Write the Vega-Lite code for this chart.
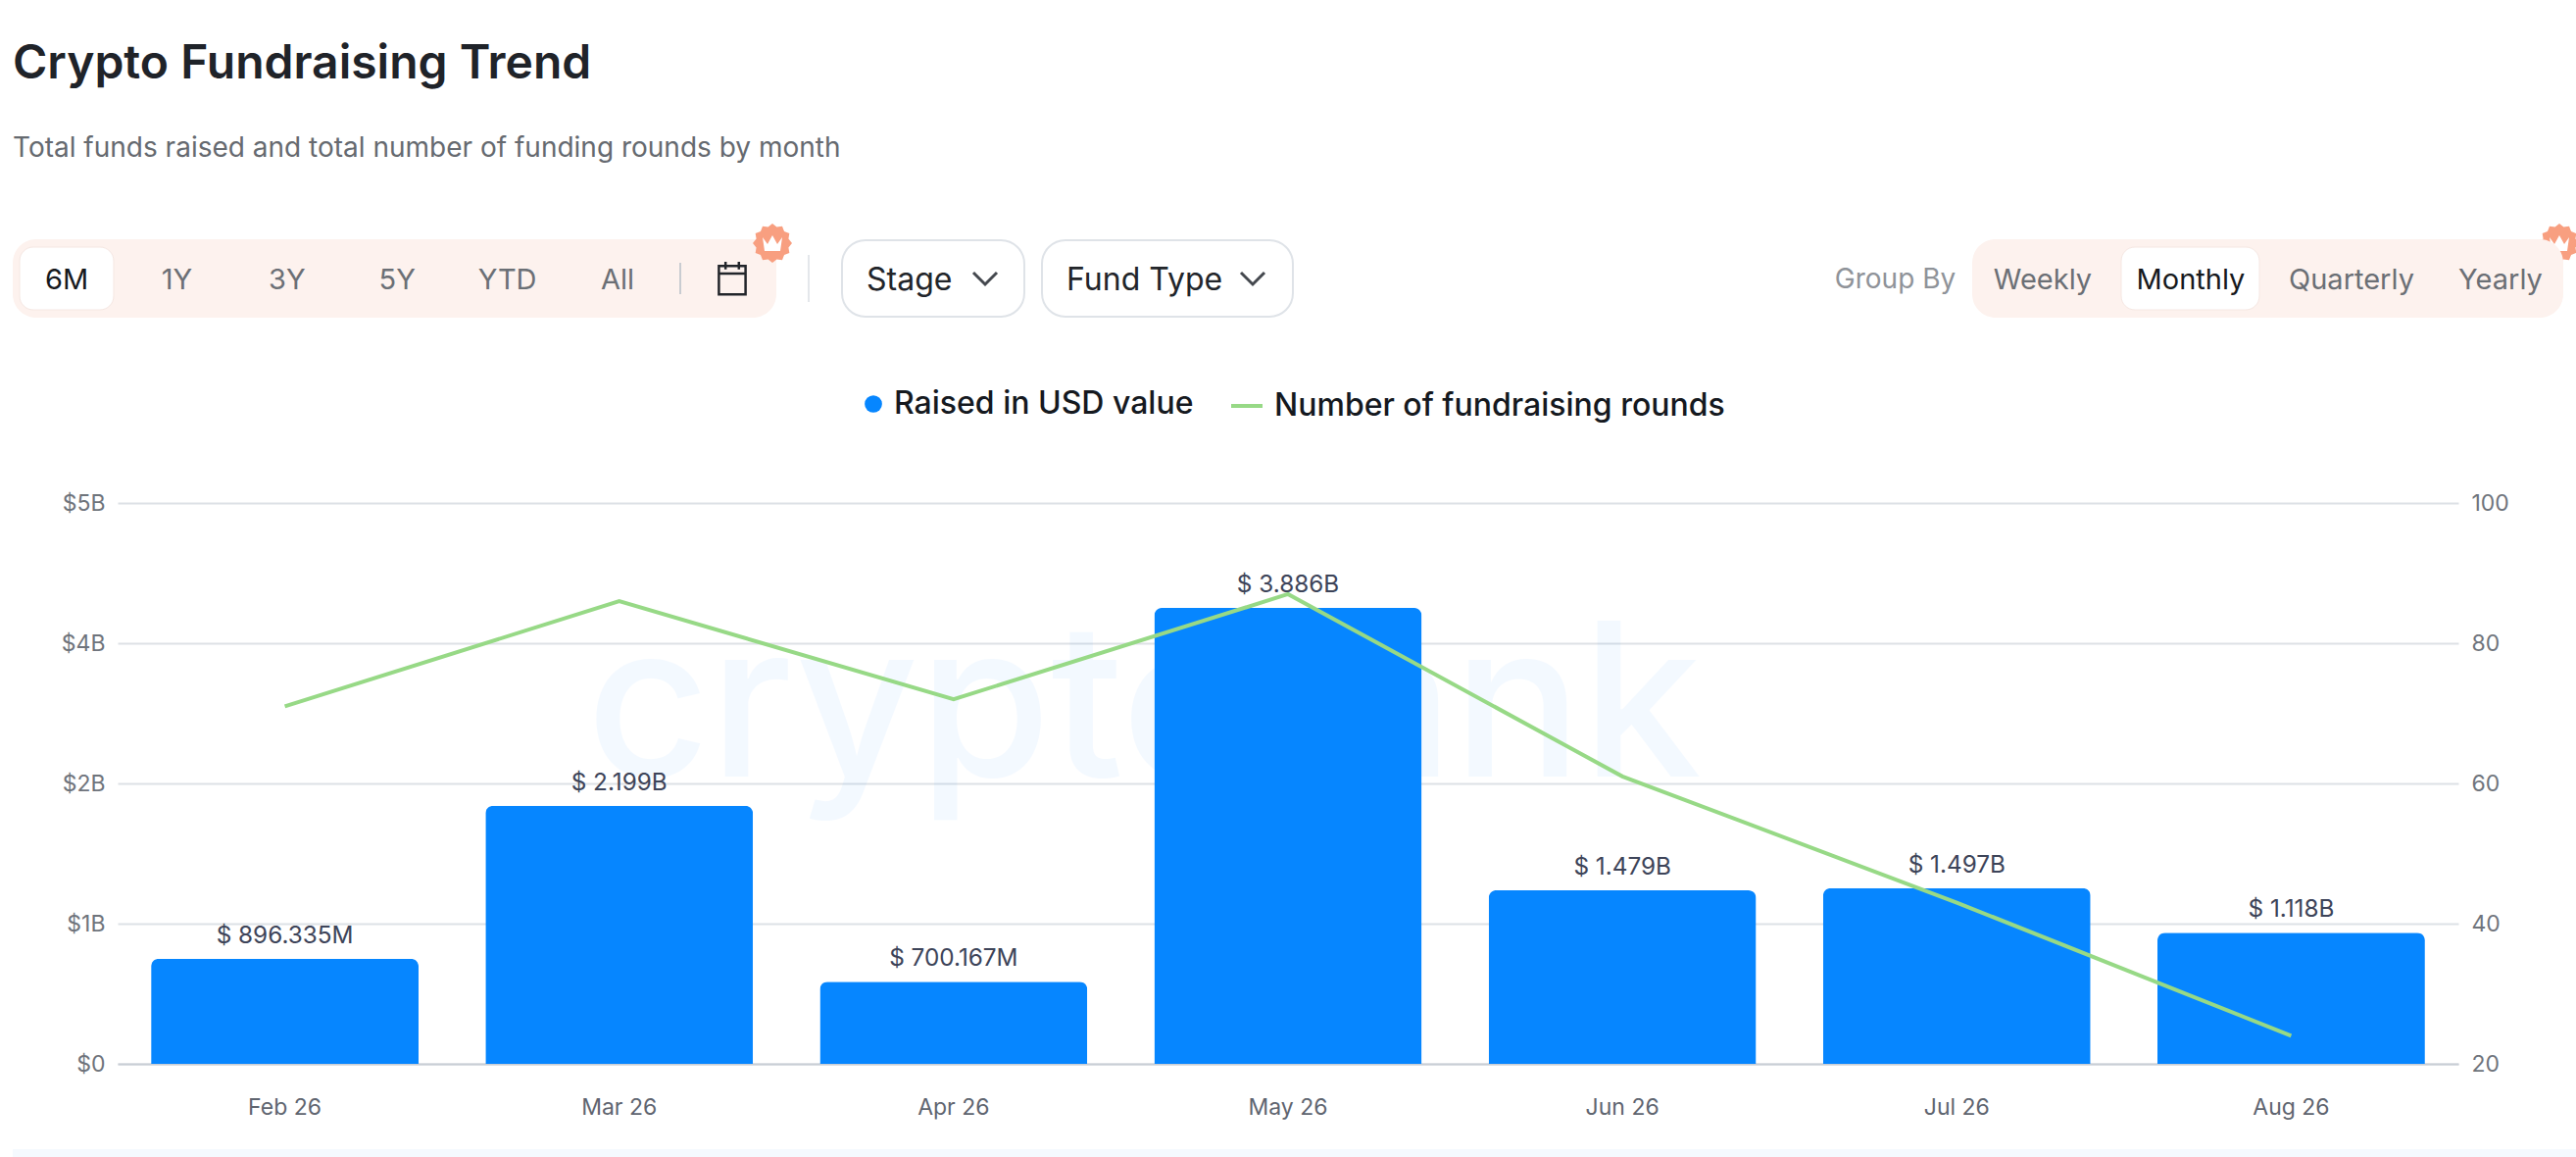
{
  "$schema": "https://vega.github.io/schema/vega-lite/v6.json",
  "width": 2388,
  "height": 572,
  "autosize": {"type": "none"},
  "padding": {"left": 120, "top": 513, "right": 120, "bottom": 95},
  "background": "#ffffff",
  "config": {
    "font": "Inter",
    "view": {"stroke": null},
    "text": {"font": "Inter"}
  },
  "title": {
    "text": "Crypto Fundraising Trend",
    "subtitle": "Total funds raised and total number of funding rounds by month",
    "anchor": "start",
    "frame": "group",
    "dx": -107,
    "offset": 62,
    "font": "Inter",
    "fontSize": 48,
    "fontWeight": 600,
    "color": "#1f2329",
    "subtitleFont": "Inter",
    "subtitleFontSize": 28,
    "subtitleColor": "#666a70",
    "subtitlePadding": 48
  },
  "datasets": {
    "months": [
      {"month": "Feb 26", "raised_b": 0.896335, "rounds": 71, "label": "$ 896.335M", "bar_series": "Raised in USD value", "line_series": "Number of fundraising rounds"},
      {"month": "Mar 26", "raised_b": 2.199, "rounds": 86, "label": "$ 2.199B", "bar_series": "Raised in USD value", "line_series": "Number of fundraising rounds"},
      {"month": "Apr 26", "raised_b": 0.700167, "rounds": 72, "label": "$ 700.167M", "bar_series": "Raised in USD value", "line_series": "Number of fundraising rounds"},
      {"month": "May 26", "raised_b": 3.886, "rounds": 87, "label": "$ 3.886B", "bar_series": "Raised in USD value", "line_series": "Number of fundraising rounds"},
      {"month": "Jun 26", "raised_b": 1.479, "rounds": 61, "label": "$ 1.479B", "bar_series": "Raised in USD value", "line_series": "Number of fundraising rounds"},
      {"month": "Jul 26", "raised_b": 1.497, "rounds": 43, "label": "$ 1.497B", "bar_series": "Raised in USD value", "line_series": "Number of fundraising rounds"},
      {"month": "Aug 26", "raised_b": 1.118, "rounds": 24, "label": "$ 1.118B", "bar_series": "Raised in USD value", "line_series": "Number of fundraising rounds"}
    ]
  },
  "layer": [
    {
      "data": {"values": [{"brand": "cryptorank"}]},
      "mark": {"type": "text", "fontSize": 218, "fontWeight": 500, "color": "#0686ff", "opacity": 0.045, "dx": -147, "dy": -72},
      "encoding": {"text": {"field": "brand"}}
    },
    {
      "data": {"name": "months"},
      "mark": {"type": "bar", "cornerRadiusTopLeft": 8, "cornerRadiusTopRight": 8},
      "encoding": {
        "x": {
          "field": "month", "type": "nominal", "sort": null,
          "scale": {"type": "band", "paddingInner": 0.2, "paddingOuter": 0.1},
          "axis": {"title": null, "labelAngle": 0, "labelFontSize": 23, "labelColor": "#5f6570", "labelPadding": 33, "ticks": false, "domainColor": "#c9ced6", "domainWidth": 2}
        },
        "y": {
          "field": "raised_b", "type": "quantitative",
          "scale": {"domain": [0, 4.78], "nice": false},
          "axis": {
            "title": null, "orient": "left", "values": [0, 1.195, 2.39, 3.585, 4.78],
            "labelExpr": "datum.value == 0 ? '$0' : '$' + round(datum.value) + 'B'",
            "labelFontSize": 23, "labelColor": "#6f747c", "labelPadding": 13,
            "ticks": false, "domain": false, "grid": true, "gridColor": "#dde1e6", "gridWidth": 2
          }
        },
        "fill": {
          "field": "bar_series", "type": "nominal",
          "scale": {"range": ["#0686ff"]},
          "legend": {"title": null, "orient": "none", "legendX": 755, "legendY": -117, "symbolType": "circle", "symbolSize": 314, "labelFont": "Inter", "labelFontSize": 32, "labelFontWeight": 500, "labelColor": "#15191f", "labelLimit": 600, "labelOffset": 5}
        }
      }
    },
    {
      "data": {"name": "months"},
      "mark": {"type": "text", "fontSize": 24.3, "color": "#3d4459", "dy": -23},
      "encoding": {
        "x": {"field": "month", "type": "nominal", "sort": null, "scale": {"type": "band", "paddingInner": 0.2, "paddingOuter": 0.1}, "axis": null},
        "y": {"field": "raised_b", "type": "quantitative", "scale": {"domain": [0, 4.78], "nice": false}, "axis": null},
        "text": {"field": "label"}
      }
    },
    {
      "data": {"name": "months"},
      "mark": {"type": "line", "strokeWidth": 4},
      "encoding": {
        "x": {"field": "month", "type": "nominal", "sort": null, "scale": {"type": "band", "paddingInner": 0.2, "paddingOuter": 0.1}, "axis": null},
        "y": {
          "field": "rounds", "type": "quantitative",
          "scale": {"domain": [20, 100], "nice": false, "zero": false},
          "axis": {"title": null, "orient": "right", "values": [20, 40, 60, 80, 100], "labelFontSize": 23, "labelColor": "#6f747c", "labelPadding": 13, "ticks": false, "domain": false, "grid": false}
        },
        "stroke": {
          "field": "line_series", "type": "nominal",
          "scale": {"range": ["#97d986"]},
          "legend": {"title": null, "orient": "none", "legendX": 1134, "legendY": -117, "symbolType": "stroke", "symbolSize": 1024, "symbolStrokeWidth": 4, "labelFont": "Inter", "labelFontSize": 32, "labelFontWeight": 500, "labelColor": "#15191f", "labelLimit": 700, "labelOffset": 10}
        }
      }
    },
    {
      "data": {"values": [{"control": "period range"}]},
      "mark": {"type": "rect", "fill": "#fdf2ee", "cornerRadius": 24},
      "encoding": {
        "x": {"field": "control", "type": "nominal", "scale": {"type": "band", "padding": 0, "range": [-107, 672]}, "axis": null},
        "y": {"field": "control", "type": "nominal", "scale": {"type": "band", "padding": 0, "range": [-269, -189]}, "axis": null}
      }
    },
    {
      "data": {"values": [{"control": "6M"}]},
      "mark": {"type": "rect", "fill": "#ffffff", "stroke": "#f5e7e2", "strokeWidth": 1, "cornerRadius": 14},
      "encoding": {
        "x": {"field": "control", "type": "nominal", "scale": {"type": "band", "padding": 0, "range": [-100, -4]}, "axis": null},
        "y": {"field": "control", "type": "nominal", "scale": {"type": "band", "padding": 0, "range": [-261, -197]}, "axis": null}
      }
    },
    {
      "data": {"values": [{"range": "6M"}, {"range": "1Y"}, {"range": "3Y"}, {"range": "5Y"}, {"range": "YTD"}, {"range": "All"}]},
      "mark": {"type": "text", "fontSize": 29, "dy": 2},
      "encoding": {
        "x": {"field": "range", "type": "nominal", "sort": null, "scale": {"type": "point", "padding": 0, "range": [-52, 510]}, "axis": null},
        "y": {"datum": "controls", "type": "nominal", "scale": {"type": "band", "padding": 0, "range": [-269, -189]}, "axis": null},
        "color": {"condition": {"test": "datum.range === '6M'", "value": "#16191d"}, "value": "#6b6f75"},
        "text": {"field": "range"}
      }
    },
    {
      "data": {"values": [{"icon": "divider"}]},
      "mark": {"type": "point", "shape": "M0,-1L0,1", "size": 1024, "filled": false, "stroke": "#c9ccd1", "strokeWidth": 2, "opacity": 1},
      "encoding": {
        "x": {"field": "icon", "type": "nominal", "scale": {"type": "point", "range": [574, 574]}, "axis": null},
        "y": {"datum": "controls", "type": "nominal", "scale": {"type": "band", "padding": 0, "range": [-269, -189]}, "axis": null}
      }
    },
    {
      "data": {"values": [{"icon": "calendar"}]},
      "mark": {"type": "point", "shape": "M-0.8,-0.75H0.8V0.95H-0.8ZM-0.8,-0.3H0.8M-0.4,-1V-0.55M0.4,-1V-0.55", "size": 1156, "filled": false, "stroke": "#22252a", "strokeWidth": 2.5, "opacity": 1},
      "encoding": {
        "x": {"field": "icon", "type": "nominal", "scale": {"type": "point", "range": [627, 627]}, "axis": null},
        "y": {"datum": "controls", "type": "nominal", "scale": {"type": "band", "padding": 0, "range": [-269, -189]}, "axis": null}
      }
    },
    {
      "data": {"values": [{"icon": "badge period"}, {"icon": "badge group"}]},
      "mark": {"type": "point", "shape": "M1,0L.821,.22L.866,.5L.601,.601L.5,.866L.22,.821L0,1L-.22,.821L-.5,.866L-.601,.601L-.866,.5L-.821,.22L-1,0L-.821,-.22L-.866,-.5L-.601,-.601L-.5,-.866L-.22,-.821L0,-1L.22,-.821L.5,-.866L.601,-.601L.866,-.5L.821,-.22Z", "size": 1600, "filled": true, "fill": "#f89f80", "opacity": 1},
      "encoding": {
        "x": {"field": "icon", "type": "nominal", "sort": null, "scale": {"type": "point", "padding": 0, "range": [668, 2491]}, "axis": null},
        "y": {"datum": "badges", "type": "nominal", "scale": {"type": "band", "padding": 0, "range": [-285, -245]}, "axis": null}
      }
    },
    {
      "data": {"values": [{"icon": "crown period"}, {"icon": "crown group"}]},
      "mark": {"type": "point", "shape": "M-1,-0.6L-0.5,0.1L0,-0.8L0.5,0.1L1,-0.6L0.8,0.8L-0.8,0.8Z", "size": 400, "filled": true, "fill": "#ffffff", "opacity": 1},
      "encoding": {
        "x": {"field": "icon", "type": "nominal", "sort": null, "scale": {"type": "point", "padding": 0, "range": [668, 2491]}, "axis": null},
        "y": {"datum": "badges", "type": "nominal", "scale": {"type": "band", "padding": 0, "range": [-285, -245]}, "axis": null}
      }
    },
    {
      "data": {"values": [{"icon": "divider"}]},
      "mark": {"type": "point", "shape": "M0,-1L0,1", "size": 2304, "filled": false, "stroke": "#e4e7eb", "strokeWidth": 2, "opacity": 1},
      "encoding": {
        "x": {"field": "icon", "type": "nominal", "scale": {"type": "point", "range": [705, 705]}, "axis": null},
        "y": {"datum": "controls", "type": "nominal", "scale": {"type": "band", "padding": 0, "range": [-269, -189]}, "axis": null}
      }
    },
    {
      "data": {"values": [{"control": "Stage"}]},
      "mark": {"type": "rect", "fill": "#ffffff", "stroke": "#dfe3e8", "strokeWidth": 2, "cornerRadius": 24},
      "encoding": {
        "x": {"field": "control", "type": "nominal", "scale": {"type": "band", "padding": 0, "range": [739, 925]}, "axis": null},
        "y": {"field": "control", "type": "nominal", "scale": {"type": "band", "padding": 0, "range": [-268, -190]}, "axis": null}
      }
    },
    {
      "data": {"values": [{"control": "Fund Type"}]},
      "mark": {"type": "rect", "fill": "#ffffff", "stroke": "#dfe3e8", "strokeWidth": 2, "cornerRadius": 24},
      "encoding": {
        "x": {"field": "control", "type": "nominal", "scale": {"type": "band", "padding": 0, "range": [943, 1199]}, "axis": null},
        "y": {"field": "control", "type": "nominal", "scale": {"type": "band", "padding": 0, "range": [-268, -190]}, "axis": null}
      }
    },
    {
      "data": {"values": [{"control": "Stage"}, {"control": "Fund Type"}]},
      "mark": {"type": "text", "fontSize": 32, "color": "#22252a", "align": "left", "dy": 2},
      "encoding": {
        "x": {"field": "control", "type": "nominal", "sort": null, "scale": {"type": "point", "padding": 0, "range": [764, 968]}, "axis": null},
        "y": {"datum": "controls", "type": "nominal", "scale": {"type": "band", "padding": 0, "range": [-269, -189]}, "axis": null},
        "text": {"field": "control"}
      }
    },
    {
      "data": {"values": [{"control": "Stage"}, {"control": "Fund Type"}]},
      "mark": {"type": "point", "shape": "M-1,-0.5L0,0.5L1,-0.5", "size": 576, "filled": false, "stroke": "#44484e", "strokeWidth": 3, "opacity": 1},
      "encoding": {
        "x": {"field": "control", "type": "nominal", "sort": null, "scale": {"type": "point", "padding": 0, "range": [885, 1158]}, "axis": null},
        "y": {"datum": "controls", "type": "nominal", "scale": {"type": "band", "padding": 0, "range": [-269, -189]}, "axis": null}
      }
    },
    {
      "data": {"values": [{"control": "Group By"}]},
      "mark": {"type": "text", "fontSize": 28, "color": "#8f9399", "dy": 2},
      "encoding": {
        "x": {"field": "control", "type": "nominal", "scale": {"type": "band", "padding": 0, "range": [1753, 1874]}, "axis": null},
        "y": {"datum": "controls", "type": "nominal", "scale": {"type": "band", "padding": 0, "range": [-269, -189]}, "axis": null},
        "text": {"field": "control"}
      }
    },
    {
      "data": {"values": [{"control": "group range"}]},
      "mark": {"type": "rect", "fill": "#fdf2ee", "cornerRadius": 24},
      "encoding": {
        "x": {"field": "control", "type": "nominal", "scale": {"type": "band", "padding": 0, "range": [1892, 2495]}, "axis": null},
        "y": {"field": "control", "type": "nominal", "scale": {"type": "band", "padding": 0, "range": [-269, -189]}, "axis": null}
      }
    },
    {
      "data": {"values": [{"control": "Monthly"}]},
      "mark": {"type": "rect", "fill": "#ffffff", "stroke": "#f5e7e2", "strokeWidth": 1, "cornerRadius": 14},
      "encoding": {
        "x": {"field": "control", "type": "nominal", "scale": {"type": "band", "padding": 0, "range": [2044, 2185]}, "axis": null},
        "y": {"field": "control", "type": "nominal", "scale": {"type": "band", "padding": 0, "range": [-261, -197]}, "axis": null}
      }
    },
    {
      "data": {"values": [{"group": "Weekly"}, {"group": "Monthly"}]},
      "mark": {"type": "text", "fontSize": 29, "dy": 2},
      "encoding": {
        "x": {"field": "group", "type": "nominal", "sort": null, "scale": {"type": "point", "padding": 0, "range": [1964, 2115]}, "axis": null},
        "y": {"datum": "controls", "type": "nominal", "scale": {"type": "band", "padding": 0, "range": [-269, -189]}, "axis": null},
        "color": {"condition": {"test": "datum.group === 'Monthly'", "value": "#16191d"}, "value": "#6b6f75"},
        "text": {"field": "group"}
      }
    },
    {
      "data": {"values": [{"group": "Quarterly"}, {"group": "Yearly"}]},
      "mark": {"type": "text", "fontSize": 29, "color": "#6b6f75", "dy": 2},
      "encoding": {
        "x": {"field": "group", "type": "nominal", "sort": null, "scale": {"type": "point", "padding": 0, "range": [2279, 2431]}, "axis": null},
        "y": {"datum": "controls", "type": "nominal", "scale": {"type": "band", "padding": 0, "range": [-269, -189]}, "axis": null},
        "text": {"field": "group"}
      }
    },
    {
      "data": {"values": [{"control": "footer"}]},
      "mark": {"type": "rect", "fill": "#f5f9fe"},
      "encoding": {
        "x": {"field": "control", "type": "nominal", "scale": {"type": "band", "padding": 0, "range": [-107, 2508]}, "axis": null},
        "y": {"field": "control", "type": "nominal", "scale": {"type": "band", "padding": 0, "range": [659, 667]}, "axis": null}
      }
    }
  ],
  "resolve": {
    "scale": {"x": "independent", "y": "independent", "fill": "independent", "stroke": "independent", "color": "independent"}
  }
}
